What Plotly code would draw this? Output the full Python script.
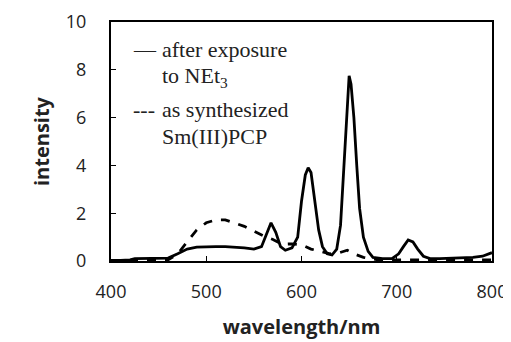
import plotly.graph_objects as go

# emission spectra
wl_exposed = [400, 410, 420, 425, 440, 460, 470, 480, 490, 500, 510, 520, 530, 540, 550, 558,
              563, 568, 573, 578, 583, 590, 596, 600, 604, 607, 610, 614, 618, 622, 627, 632,
              637, 641, 645, 648, 650, 652, 655, 658, 661, 665, 670, 675, 685, 695, 702, 707,
              712, 717, 722, 728, 735, 745, 760, 780, 790, 800]
int_exposed = [0.0, 0.02, 0.05, 0.1, 0.1, 0.12, 0.3, 0.5, 0.58, 0.6, 0.6, 0.6, 0.58, 0.55, 0.5, 0.6,
               1.1, 1.6, 1.2, 0.6, 0.45, 0.55, 1.0, 2.5, 3.6, 3.9, 3.7, 2.6, 1.3, 0.6, 0.3, 0.25,
               0.5, 1.5, 4.5, 6.5, 7.75, 7.4, 6.0, 4.0, 2.2, 1.0, 0.4, 0.15, 0.1, 0.1, 0.3, 0.6,
               0.88, 0.8, 0.5, 0.2, 0.1, 0.1, 0.12, 0.15, 0.2, 0.35]

wl_synth = [400, 460, 470, 480, 490, 500, 510, 520, 530, 540, 550, 560, 570, 580, 590, 600, 610,
            620, 630, 640, 648, 655, 665, 680, 700, 720, 750, 800]
int_synth = [0.02, 0.05, 0.3, 0.8, 1.3, 1.6, 1.72, 1.72, 1.6, 1.45, 1.25, 1.05, 0.9, 0.7, 0.72, 0.68, 0.5,
             0.4, 0.3, 0.35, 0.45, 0.3, 0.15, 0.05, 0.05, 0.05, 0.05, 0.05]

x_ticks = [400, 500, 600, 700, 800]
y_ticks = [0, 2, 4, 6, 8, 10]

fig = go.Figure()
fig.add_scatter(x=wl_synth, y=int_synth, mode='lines',
                line=dict(color='black', width=2.8, dash='dash'))
fig.add_scatter(x=wl_exposed, y=int_exposed, mode='lines',
                line=dict(color='black', width=2.8))

serif = dict(family='Liberation Serif', size=22, color='#222')
# legend: sample glyph + text, written as annotations like the original
legend_rows = [
    ("—", "after exposure", 8.83),
    ("", "to NEt<sub>3</sub>", 7.7),
    ("---", "as synthesized", 6.32),
    ("", "Sm(III)PCP", 5.19),
]
for glyph, txt, yv in legend_rows:
    if glyph:
        fig.add_annotation(x=421, y=yv, text=glyph, showarrow=False, xanchor='left',
                           yanchor='middle', font=serif)
    fig.add_annotation(x=451, y=yv, text=txt, showarrow=False, xanchor='left',
                       yanchor='middle', font=serif)

# page body adds an 8px margin, so the figure is a bit smaller than the window
fig.update_layout(
    width=503, height=334,
    margin=dict(l=103, r=19, t=14, b=81),
    plot_bgcolor='white', paper_bgcolor='white',
    showlegend=False,
    font=dict(family='Open Sans', size=18, color='#222'),
)
fig.update_xaxes(range=[400, 800], tickvals=x_ticks, ticks='inside', ticklen=5,
                 tickcolor='black', ticklabelstandoff=13, automargin=False,
                 showgrid=False, zeroline=False, showline=True, linecolor='black',
                 linewidth=2, mirror=True,
                 title=dict(text='<b>wavelength/nm</b>', font=dict(size=20), standoff=18))
fig.update_yaxes(range=[0, 10], tickvals=y_ticks, ticks='inside', ticklen=5,
                 tickcolor='black', ticklabelstandoff=19, automargin=False,
                 showgrid=False, zeroline=False, showline=True, linecolor='black',
                 linewidth=2, mirror=True,
                 title=dict(text='<b>intensity</b>', font=dict(size=20), standoff=11))

fig.write_html("out.html")
